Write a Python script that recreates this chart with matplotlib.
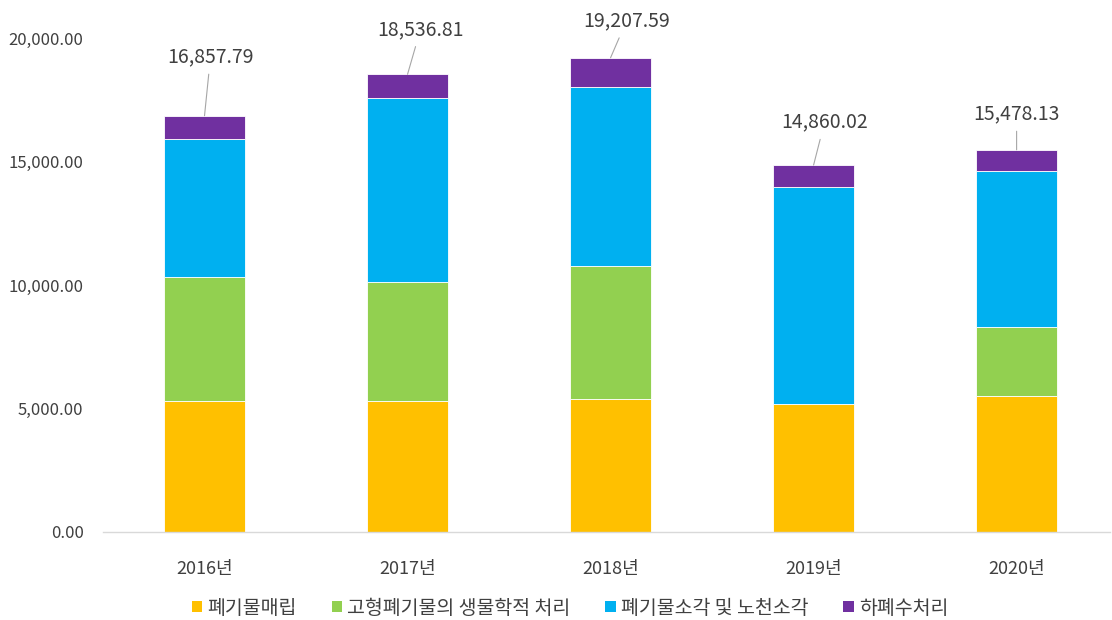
import matplotlib
matplotlib.use("Agg")
import matplotlib.pyplot as plt
from matplotlib.patches import Patch
import numpy as np

plt.rcParams['font.family'] = ['Noto Sans CJK KR', 'DejaVu Sans']

# === 데이터 ===
years = ['2016년', '2017년', '2018년', '2019년', '2020년']
landfill = [5300, 5300, 5380, 5180, 5515]             # 폐기물매립
bio_treat = [5016, 4809, 5402, 0, 2795]               # 고형폐기물의 생물학적 처리
incineration = [5600, 7480, 7253, 8803, 6321]         # 폐기물소각 및 노천소각
wastewater = [941.79, 947.81, 1172.59, 877.02, 847.13]  # 하폐수처리

series_names = ['폐기물매립', '고형폐기물의 생물학적 처리', '폐기물소각 및 노천소각', '하폐수처리']
colors = ['#FFC000', '#92D050', '#00B0F0', '#7030A0']

# 합계 라벨 위치 (픽셀 오프셋)
label_offsets = [(6, 59), (13, 45), (16, 37), (11, 43), (0, 36)]

W, H = 1112, 620
fig = plt.figure(figsize=(W / 100, H / 100), dpi=100)
ax = fig.add_axes([103 / W, (H - 531.8) / H, (1110 - 103) / W, (531.8 - 38.2) / H])

x = np.arange(len(years))
bottom = np.zeros(len(years))
for vals, name, c in zip([landfill, bio_treat, incineration, wastewater], series_names, colors):
    ax.bar(x, vals, width=0.4, bottom=bottom, color=c, edgecolor='white', linewidth=0.6, label=name)
    bottom += np.array(vals)

totals = bottom
for i, t in enumerate(totals):
    dx, dy = label_offsets[i]
    ax.annotate(f"{t:,.2f}", xy=(i, t), xytext=(dx, dy), textcoords='offset pixels',
                ha='center', va='center', fontsize=14, color='#404040',
                arrowprops=dict(arrowstyle='-', color='#A6A6A6', lw=0.8, shrinkA=3, shrinkB=0))

ax.set_xlim(-0.5, 4.46)
ax.set_ylim(0, 20000)
ax.set_yticks([0, 5000, 10000, 15000, 20000])
ax.set_yticklabels([f"{v:,.2f}" for v in [0, 5000, 10000, 15000, 20000]])
ax.set_xticks(x)
ax.set_xticklabels(years)
ax.tick_params(axis='both', length=0, colors='#404040')
ax.tick_params(axis='y', pad=14, labelsize=12)
ax.tick_params(axis='x', pad=20, labelsize=13)

for s in ['top', 'right', 'left']:
    ax.spines[s].set_visible(False)
ax.spines['bottom'].set_color('#D9D9D9')
ax.spines['bottom'].set_linewidth(1)

handles = [Patch(facecolor=c, label=n) for c, n in zip(colors, series_names)]
fig.legend(handles=handles, loc='center', bbox_to_anchor=(570 / W, 1 - 608 / H), ncol=4,
           frameon=False, fontsize=14, handlelength=0.55, handleheight=0.55, handletextpad=0.25,
           columnspacing=1.8, labelcolor='#404040')

fig.savefig('out.png', dpi=100)
